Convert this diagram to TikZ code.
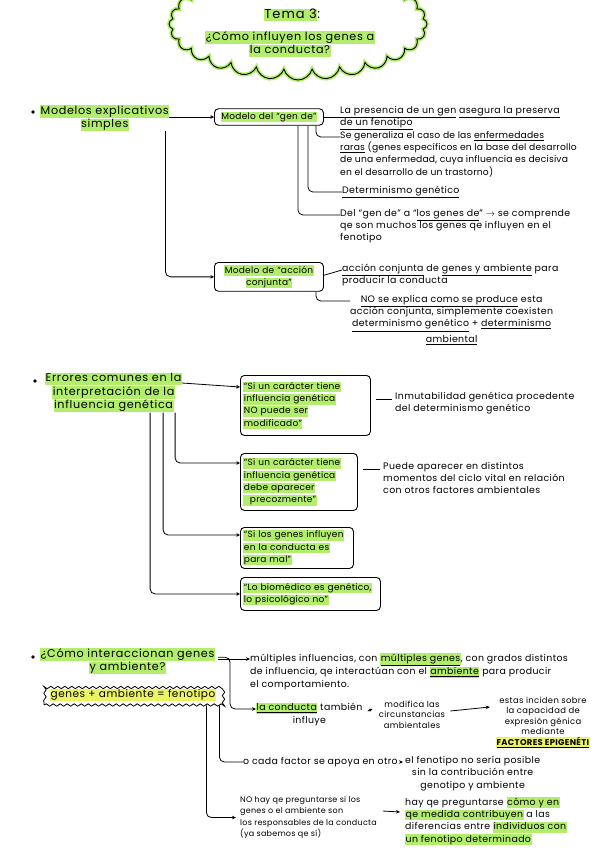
\documentclass[tikz,border=0pt]{standalone}
\usepackage{fontspec}
\setmainfont{Poppins}
\usetikzlibrary{arrows.meta,shapes.symbols,decorations.pathmorphing}
\definecolor{hlg}{RGB}{178,238,108}
\definecolor{hly}{RGB}{236,244,98}
\newcommand{\hl}[1]{{\setlength{\fboxsep}{0.5pt}\colorbox{hlg}{\rule[-2.4pt]{0pt}{9.4pt}#1}}}
\newcommand{\hy}[1]{{\setlength{\fboxsep}{0.5pt}\colorbox{hly}{\rule[-2.4pt]{0pt}{9.4pt}#1}}}

\tikzset{
  hdr/.style={font=\fontsize{11.2}{13.4}\selectfont\addfontfeature{LetterSpace=6}, align=center, inner sep=0pt},
  note/.style={font=\fontsize{9.4}{12.3}\selectfont\addfontfeature{LetterSpace=4}, align=left, inner sep=0pt},
  small/.style={font=\fontsize{8.4}{10.2}\selectfont\addfontfeature{LetterSpace=4}, align=center, inner sep=0pt},
  box/.style={draw, rounded corners=4pt, line width=0.9pt, inner sep=3pt,
    font=\fontsize{9}{12.3}\selectfont\addfontfeature{LetterSpace=3}, align=left},
  link/.style={line width=0.8pt, rounded corners=5pt},
  arr/.style={link, -{Triangle[open, length=3.5pt, width=3.5pt]}},
  arw/.style={link, -{Stealth[length=4pt, width=3.5pt]}},
  dot/.style={circle, fill, inner sep=1.3pt},
}

\begin{document}
\begin{tikzpicture}[x=1pt, y=-1pt]
\useasboundingbox (0,0) rectangle (599,848);

% titulo
\node[cloud, cloud puffs=28, cloud ignores aspect, minimum width=258pt, minimum height=112pt,
  draw, line width=0.9pt, preaction={draw=hlg, line width=4pt}] (tema) at (298,24) {};
\node[hdr, font=\fontsize{13}{15}\selectfont\addfontfeature{LetterSpace=8}] (tnum) at (292,15) {\hl{Tema 3}:};
\node[hdr] (tq) at (290,44) {\hl{¿Cómo influyen los genes a}\\\hl{la conducta?}};

% modelos explicativos simples
\node[dot] (b1) at (33,112) {};
\node[hdr, anchor=north west] (mod) at (40,105) {\hl{Modelos explicativos}\\\hl{simples}};
\node[box, anchor=west, text width=103pt, align=center] (gen) at (214,117) {\hl{Modelo del “gen de”}};
\node[box, anchor=north west, align=center, text width=103pt] (acc) at (214,262) {\hl{Modelo de “acción}\\\hl{conjunta”}};
\draw[arr] (mod.east |- gen.west) -- (gen.west);
\draw[arr] ([xshift=-4pt]mod.south east) |- (acc.west);

\node[note, anchor=north west] (t11) at (340,106) {\underline{La presencia de un gen} \underline{asegura la preserva}\\\underline{de un fenotipo}};
\node[note, anchor=north west, font=\fontsize{9.2}{12.3}\selectfont\addfontfeature{LetterSpace=2}] (t12) at (340,131) {Se generaliza el caso de las \underline{enfermedades}\\\underline{raras} (genes específicos en la base del desarrollo\\de una enfermedad, cuya influencia es decisiva\\en el desarrollo de un trastorno)};
\node[note, anchor=west] (t13) at (342,192) {\underline{Determinismo genético}};
\node[note, anchor=north west] (t14) at (340,209) {Del “gen de” a “\underline{los genes de}” $\rightarrow$ se comprende\\qe son muchos los genes qe influyen en el\\fenotipo};
\draw[link] (gen.east) -- (gen.east -| t11.west);
\draw[link] ([xshift=-8pt]gen.south east) |- ([yshift=-6pt]t12.north west);
\draw[link] ([xshift=-16pt]gen.south east) |- (t13.west);
\draw[link] ([xshift=-26pt]gen.south east) |- ([yshift=-6pt]t14.north west);

\node[note, anchor=north west] (t15) at (342,264) {\underline{acción conjunta} de \underline{genes y ambiente} para\\producir la conducta};
\node[note, anchor=north west, align=center] (t16) at (350,295) {\underline{NO se explica como se produce} esta\\acción conjunta, simplemente coexisten\\\underline{determinismo genético} + \underline{determinismo}\\[3pt]\underline{ambiental}};
\draw[link] (acc.east |- t15.west) -- ([yshift=-6pt]t15.north west);
\draw[link] ([xshift=-8pt]acc.south east) |- ([yshift=-6pt]t16.north west);

% errores comunes
\node[dot] (b2) at (35,381) {};
\node[hdr, anchor=north west] (err) at (45,373) {\hl{Errores comunes en la}\\\hl{interpretación de la}\\\hl{influencia genética}};
\node[box, anchor=north west, text width=124pt, minimum height=60pt] (e1) at (240,375) {\hl{“Si un carácter tiene}\\\hl{influencia genética}\\\hl{NO puede ser}\\\hl{modificado”}};
\node[box, anchor=north west, text width=111pt, minimum height=57pt] (e2) at (240,453) {\hl{“Si un carácter tiene}\\\hl{influencia genética}\\\hl{debe aparecer}\\\hl{\ \ precozmente”}};
\node[box, anchor=north west, text width=107pt, minimum height=38pt] (e3) at (240,527) {\hl{“Si los genes influyen}\\\hl{en la conducta es}\\\hl{para mal”}};
\node[box, anchor=north west, text width=134pt, minimum height=33pt] (e4) at (240,577) {\hl{“Lo biomédico es genético,}\\\hl{lo psicológico no”}};
\draw[arr] ([yshift=-10pt]err.north east) -- ([yshift=-12pt]e1.north west);
\draw[arr] ([xshift=-7pt]err.south east) |- ([yshift=-10pt]e2.north west);
\draw[arr] ([xshift=-19pt]err.south east) |- ([yshift=-8pt]e3.north west);
\draw[arr] ([xshift=-32pt]err.south east) |- (e4.west);

\node[note, anchor=north west] (i1) at (395,392) {Inmutabilidad genética procedente\\del determinismo genético};
\node[note, anchor=north west] (i2) at (383,462) {Puede aparecer en distintos\\momentos del ciclo vital en relación\\con otros factores ambientales};
\coordinate (i1a) at ([yshift=-7pt]i1.north west);
\coordinate (i2a) at ([yshift=-7pt]i2.north west);
\draw[link] ([xshift=5pt]e1.east |- i1a) -- ([xshift=-3pt]i1a);
\draw[link] ([xshift=5pt]e2.east |- i2a) -- ([xshift=-3pt]i2a);

% genes y ambiente
\node[dot] (b3) at (33,657) {};
\node[hdr, anchor=north west] (q) at (40,648) {\hl{¿Cómo interaccionan genes}\\\hl{y ambiente?}};
\node[font=\fontsize{10.5}{13}\selectfont\addfontfeature{LetterSpace=5}, draw, line width=0.8pt, minimum width=178pt, minimum height=20pt,
  decorate, decoration={snake, amplitude=1.2pt, segment length=7pt}] (fen) at (133,695) {\hy{genes + ambiente = fenotipo}};

\node[note, anchor=north west] (m1) at (250,653) {múltiples influencias, con \hl{\underline{múltiples genes}}, con grados distintos\\de influencia, qe interactúan con el \hl{\underline{ambiente}} para producir\\el comportamiento.};
\coordinate (m1a) at ([yshift=-6pt]m1.north west);
\draw[arw] ([xshift=3pt]q.north east |- m1a) -- (m1a);

\node[note, anchor=north west, align=center] (c1) at (256,703) {\hl{\underline{la conducta}} también\\influye};
\node[small, anchor=north] (c2) at (412,701) {modifica las\\circunstancias\\ambientales};
\node[small, anchor=north] (c3) at (543,697) {estas inciden sobre\\la capacidad de\\expresión génica\\mediante\\[1pt]\hy{\underline{\textbf{FACTORES EPIGENÉTI}}}};
\draw[arw] ([xshift=3pt,yshift=4pt]q.east) -- ++(12,0) |- ([yshift=-6pt]c1.north west);
\draw[arw] ([xshift=5pt,yshift=-8pt]c1.north east) -- ([xshift=-6pt,yshift=-8pt]c2.north west);
\draw[arw] ([xshift=5pt,yshift=-10pt]c2.north east) -- ([xshift=-6pt,yshift=-10pt]c3.north west);

\node[note, anchor=west] (d1) at (243,762) {o cada factor se apoya en otro};
\node[note, anchor=north west, align=center] (d2) at (405,756) {el fenotipo no sería posible\\sin la contribución entre\\genotipo y ambiente};
\draw[link] ([xshift=-3pt]fen.south east) |- (d1.west);
\draw[arw] ([xshift=3pt]d1.east) -- ([xshift=-2pt,yshift=-6pt]d2.north west);

\node[note, anchor=north west, font=\fontsize{8}{11.5}\selectfont\addfontfeature{LetterSpace=3}] (n1) at (240,796) {NO hay qe preguntarse si los\\genes o el ambiente son\\los responsables de la conducta\\(ya sabemos qe sí)};
\node[note, anchor=north west] (n2) at (405,797) {hay qe preguntarse \hl{cómo y en}\\\hl{qe medida contribuyen} a las\\diferencias entre \hl{individuos con}\\\hl{un fenotipo determinado}};
\draw[arw] ([xshift=-16pt]fen.south east) |- ([xshift=-4pt]n1.west);
\draw[arw] ([xshift=6pt,yshift=-15pt]n1.north east) -- ([xshift=-5pt,yshift=-15pt]n2.north west);
\end{tikzpicture}
\end{document}
